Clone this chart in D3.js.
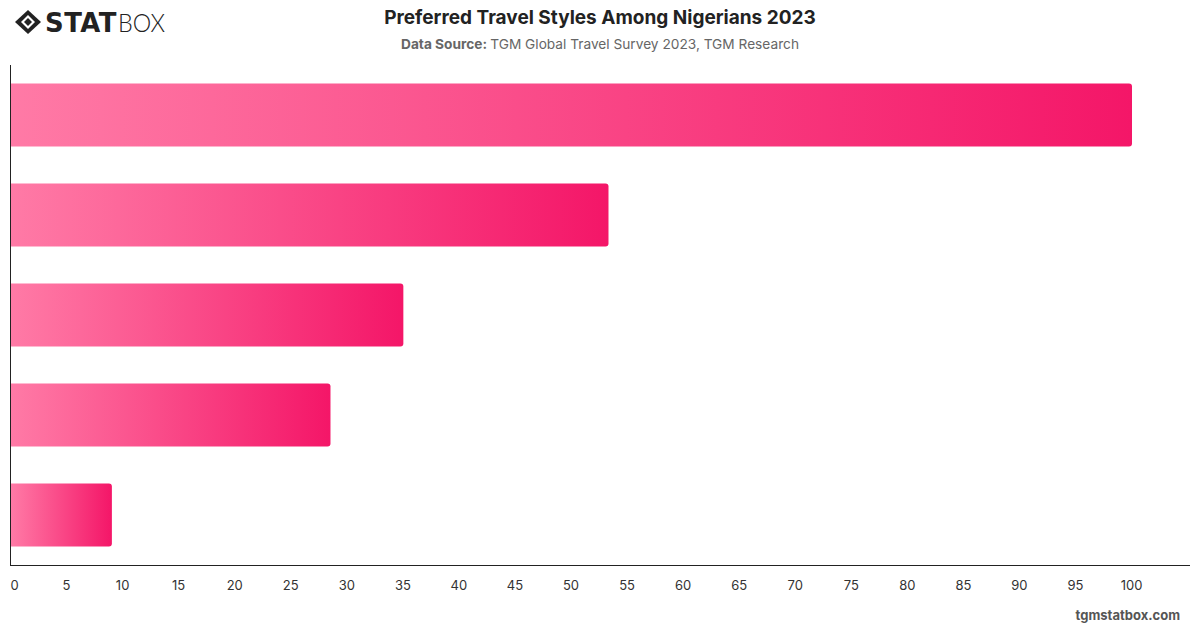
<!DOCTYPE html>
<html><head><meta charset="utf-8">
<script src="https://cdn.jsdelivr.net/npm/d3@7"></script>
<style>
html,body{margin:0;padding:0;background:#fff;}
svg{display:block;font-family:Inter,"Helvetica Neue",Arial,sans-serif;}
</style></head>
<body><svg id="c" width="1200" height="628"></svg>
<script>
const categories = ["Style A","Style B","Style C","Style D","Style E"];
const values = [100, 53.3, 35, 28.5, 9];
const tickValues = [0,5,10,15,20,25,30,35,40,45,50,55,60,65,70,75,80,85,90,95,100];

const svg = d3.select("#c");
const defs = svg.append("defs");
const grad = defs.append("linearGradient").attr("id","g").attr("x1","0").attr("x2","1").attr("y1","0").attr("y2","0");
grad.append("stop").attr("offset","0%").attr("stop-color","#ff7aa6");
grad.append("stop").attr("offset","100%").attr("stop-color","#f41668");

const x = d3.scaleLinear().domain([0,100]).range([11,1132]);
const y = d3.scaleBand().domain(categories).range([65,565]).paddingInner(0.37).paddingOuter(0.185);

svg.append("g").selectAll("path").data(values).join("path")
  .attr("fill","url(#g)")
  .attr("d",(d,i)=>{
    const x0=x(0), x1=x(d), y0=y(categories[i]), h=y.bandwidth(), r=3;
    return `M${x0},${y0}H${x1-r}Q${x1},${y0} ${x1},${y0+r}V${y0+h-r}Q${x1},${y0+h} ${x1-r},${y0+h}H${x0}Z`;
  });

svg.append("line").attr("x1",10.5).attr("x2",10.5).attr("y1",65).attr("y2",565.5).attr("stroke","#222").attr("stroke-width",1);
svg.append("line").attr("x1",10).attr("x2",1190).attr("y1",565.5).attr("y2",565.5).attr("stroke","#222").attr("stroke-width",1);

const xAxis = d3.axisBottom(x).tickValues(tickValues).tickSize(0).tickPadding(0);
const ax = svg.append("g").attr("transform","translate(-1,581)").call(xAxis);
ax.select(".domain").remove();
ax.selectAll("text").attr("font-size",13).attr("fill","#333").attr("font-family","Inter,Arial,sans-serif").attr("dy","0.71em")
  .attr("dx",d=>d===0?4:0);

svg.append("text").attr("x",600).attr("y",24).attr("text-anchor","middle").attr("font-size",19).attr("font-weight",700).attr("fill","#222").text("Preferred Travel Styles Among Nigerians 2023");
const sub = svg.append("text").attr("x",600).attr("y",49).attr("text-anchor","middle").attr("font-size",13.7).attr("fill","#666");
sub.append("tspan").attr("font-weight",700).text("Data Source: ");
sub.append("tspan").text("TGM Global Travel Survey 2023, TGM Research");

svg.append("text").attr("x",1180).attr("y",620).attr("text-anchor","end").attr("font-size",13).attr("font-weight",700).attr("fill","#555").text("tgmstatbox.com");

const lg = svg.append("g").attr("transform","translate(15,10)");
lg.append("path").attr("d","M13,0 L26,12 L13,24 L0,12 Z").attr("fill","#222");
lg.append("path").attr("d","M13,5 L20,12 L13,19 L6,12 Z").attr("fill","#fff");
lg.append("path").attr("d","M13,8 L17,12 L13,16 L9,12 Z").attr("fill","#222");
lg.append("text").attr("x",30).attr("y",22).attr("font-size",26).attr("font-weight",900).attr("fill","#222").attr("font-family","'DejaVu Sans',Arial,sans-serif").attr("letter-spacing",0.5).attr("textLength",72).attr("lengthAdjust","spacingAndGlyphs").text("STAT");
lg.append("text").attr("x",103).attr("y",22).attr("font-size",25).attr("font-weight",300).attr("fill","#222").attr("font-family","Lato,Arial,sans-serif").attr("textLength",47).attr("lengthAdjust","spacingAndGlyphs").text("BOX");
</script></body></html>
